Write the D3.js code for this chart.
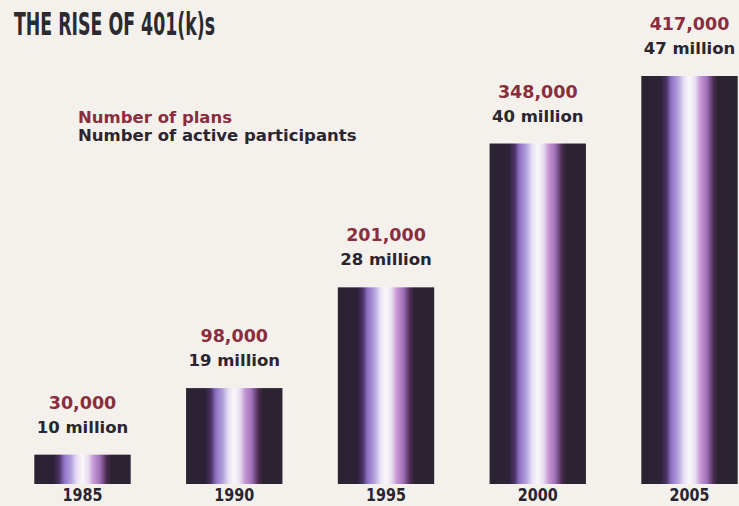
<!DOCTYPE html>
<html><head><meta charset="utf-8">
<script src="https://cdn.jsdelivr.net/npm/d3@7"></script>
<style>html,body{margin:0;padding:0;background:#f4f1ec;}</style>
</head><body>
<svg id="c" width="739" height="506"></svg>
<script>
const years = ["1985","1990","1995","2000","2005"];
const plans = [30000, 98000, 201000, 348000, 417000];
const planLabels = ["30,000","98,000","201,000","348,000","417,000"];
const participants = [10, 19, 28, 40, 47];
const partLabels = ["10 million","19 million","28 million","40 million","47 million"];
const title = "THE RISE OF 401(k)s";
const legendItems = ["Number of plans","Number of active participants"];

const svg = d3.select("#c");
svg.append("rect").attr("width",739).attr("height",506).attr("fill","#f4f1ec");

const x = d3.scaleBand().domain(years).range([7, 765]).paddingInner(0.365).paddingOuter(0.18);
const y = d3.scaleLinear().domain([0, 417000]).range([484, 76]);

const defs = svg.append("defs");
const g = defs.append("linearGradient").attr("id","tube").attr("x1","0").attr("x2","1").attr("y1","0").attr("y2","0");
[[0,"#2a2330"],[0.2,"#2c2236"],[0.26,"#4a3468"],[0.31,"#8f72c4"],[0.38,"#b3a0de"],[0.44,"#e6def2"],[0.5,"#fbf8fb"],[0.56,"#e8dcf0"],[0.61,"#c79ad6"],[0.68,"#a070b8"],[0.75,"#4a2c52"],[0.8,"#2c2230"],[1,"#2a2330"]]
  .forEach(([o,c])=>g.append("stop").attr("offset",o).attr("stop-color",c));

const data = years.map((yr,i)=>({yr, p:plans[i], pl:planLabels[i], m:participants[i], ml:partLabels[i]}));

svg.selectAll("rect.bar").data(data).enter().append("rect")
  .attr("class","bar")
  .attr("x",d=>x(d.yr)).attr("width",x.bandwidth())
  .attr("y",d=>y(d.p)).attr("height",d=>y(0)-y(d.p))
  .attr("fill","url(#tube)");

const font = "'DejaVu Sans', Verdana, sans-serif";
svg.selectAll("text.pl").data(data).enter().append("text")
  .attr("x",d=>x(d.yr)+x.bandwidth()/2).attr("y",d=>y(d.p)-46)
  .attr("text-anchor","middle").attr("font-family",font).attr("font-weight","bold")
  .attr("font-size",17.5).attr("fill","#8a2d3e").text(d=>d.pl);
svg.selectAll("text.ml").data(data).enter().append("text")
  .attr("x",d=>x(d.yr)+x.bandwidth()/2).attr("y",d=>y(d.p)-22)
  .attr("text-anchor","middle").attr("font-family",font).attr("font-weight","bold")
  .attr("font-size",16.5).attr("fill","#2a2530").text(d=>d.ml);

const xAxis = d3.axisBottom(x).tickSize(0).tickPadding(4);
const ax = svg.append("g").attr("transform","translate(0,484)").call(xAxis);
ax.select(".domain").remove();
ax.selectAll("text").attr("font-family",font)
  .attr("font-weight","bold").attr("font-size",17).attr("fill","#2a2530").attr("dy","0.76em")
  .attr("textLength",40).attr("lengthAdjust","spacingAndGlyphs");

svg.append("text").attr("x",14).attr("y",35).attr("font-family",font).attr("font-weight","bold")
  .attr("font-size",32).attr("fill","#2a2a30")
  .attr("textLength",201).attr("lengthAdjust","spacingAndGlyphs").text(title);

svg.selectAll("text.leg").data(legendItems).enter().append("text")
  .attr("x",78).attr("y",(d,i)=>123+i*18).attr("font-family",font).attr("font-weight","bold")
  .attr("font-size",16.5).attr("fill",(d,i)=>i===0?"#8a2d3e":"#2a2530").text(d=>d);
</script>
</body></html>
